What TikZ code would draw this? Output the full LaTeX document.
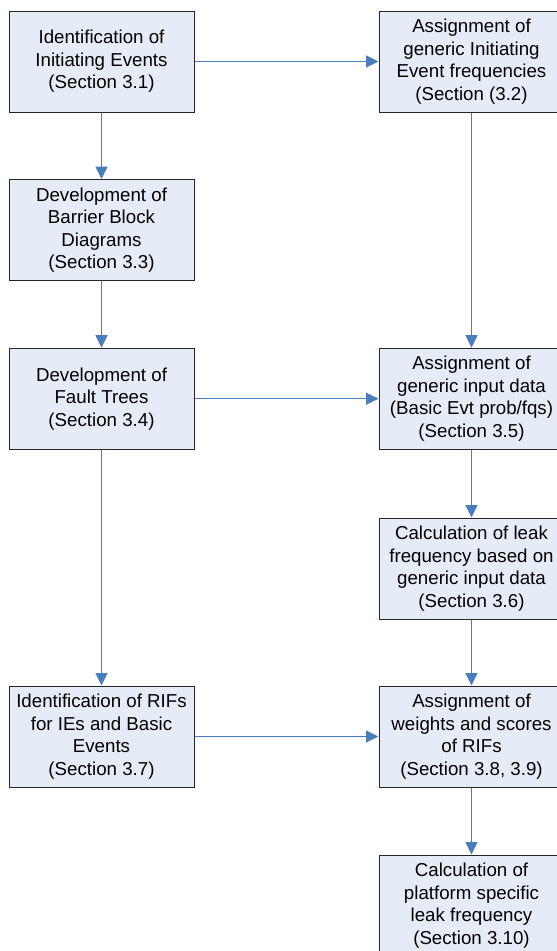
\documentclass[tikz,border=0pt]{standalone}
\usepackage{fontspec}
\setmainfont{Liberation Sans}
\usetikzlibrary{arrows.meta}
\definecolor{boxfill}{RGB}{230,236,247}
\definecolor{boxline}{RGB}{40,40,40}
\definecolor{flow}{RGB}{74,126,187}
\begin{document}
\begin{tikzpicture}[x=1pt,y=-1pt,
  stepbox/.style={rectangle, draw=boxline, line width=1pt, fill=boxfill,
    minimum width=185pt, minimum height=101pt, inner sep=0pt,
    align=center, font=\fontsize{18.7}{22.5}\selectfont},
  conn/.style={draw=flow, line width=1pt,
    -{Triangle[length=12.5pt,width=12pt]}, color=flow}]
  \clip (0,0) rectangle (557,951);
  \fill[white] (0,0) rectangle (557,951);

  % left column
  \node[stepbox] (ie)   at (101.5,61.5)  {Identification of\\Initiating Events\\(Section 3.1)};
  \node[stepbox] (bbd)  at (101.5,230)   {Development of\\Barrier Block\\Diagrams\\(Section 3.3)};
  \node[stepbox] (ft)   at (101.5,398.7) {Development of\\Fault Trees\\(Section 3.4)};
  \node[stepbox] (rif)  at (101.5,736.5) {Identification of RIFs\\for IEs and Basic\\Events\\(Section 3.7)};

  % right column
  \node[stepbox] (ief)  at (471.5,61.5)  {Assignment of\\generic Initiating\\Event frequencies\\(Section (3.2)};
  \node[stepbox] (gid)  at (471.5,398.7) {Assignment of\\generic input data\\(Basic Evt prob/fqs)\\(Section 3.5)};
  \node[stepbox] (leak) at (471.5,568.5) {Calculation of leak\\frequency based on\\generic input data\\(Section 3.6)};
  \node[stepbox] (ws)   at (471.5,736.5) {Assignment of\\weights and scores\\of RIFs\\(Section 3.8, 3.9)};
  \node[stepbox] (psl)  at (471.5,905.5) {Calculation of\\platform specific\\leak frequency\\(Section 3.10)};

  % connectors
  \draw[conn] (ie) -- (ief);
  \draw[conn] (ie) -- (bbd);
  \draw[conn] (bbd) -- (ft);
  \draw[conn] (ft) -- (gid);
  \draw[conn] (ft) -- (rif);
  \draw[conn] (ief) -- (gid);
  \draw[conn] (gid) -- (leak);
  \draw[conn] (leak) -- (ws);
  \draw[conn] (rif) -- (ws);
  \draw[conn] (ws) -- (psl);
\end{tikzpicture}
\end{document}
